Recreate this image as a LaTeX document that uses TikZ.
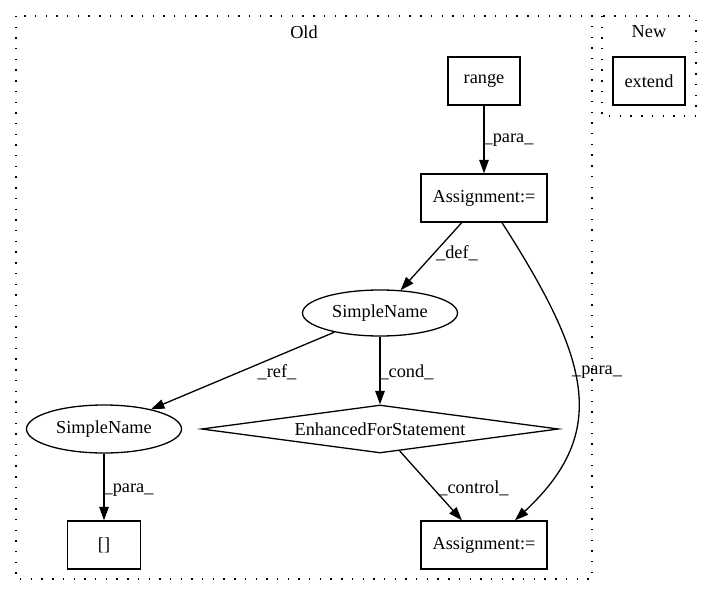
\documentclass[tikz,border=0pt]{standalone}
\usepackage{fontspec}
\setmainfont{Liberation Serif}
\usetikzlibrary{arrows.meta,shapes.geometric}

\begin{document}
\begin{tikzpicture}[x=1pt, y=-1pt, line width=1.3pt,
    font=\fontsize{18.3}{22}\selectfont,
    box/.style={draw, rectangle, minimum width=72pt, minimum height=48pt, inner sep=0pt},
    oval/.style={draw, ellipse, minimum width=155pt, minimum height=46pt, inner sep=0pt},
    choice/.style={draw, diamond, aspect=7.4, minimum width=357pt, minimum height=48pt, inner sep=0pt},
    cluster/.style={draw, line width=1.6pt, dash pattern={on 1.4pt off 9.3pt}},
    edge/.style={-{Triangle[length=13.5pt, width=9.5pt]}},
    lbl/.style={inner sep=0pt}]
  \useasboundingbox (0,0) rectangle (712,596);
  % clusters
  \draw [cluster] (16,16) rectangle (592,579);
  \draw [cluster] (602,16) rectangle (696,116);
  \node (old) at (304,32) {Old};
  \node (new) at (649,32) {New};
  % nodes
  \node [box] (extend) at (649,81) {extend};
  \node [box] (range) at (484,81) {range};
  \node [box, minimum width=126pt] (asgtop) at (484,198) {Assignment:=};
  \node [oval] (sntop) at (380,313) {SimpleName};
  \node [oval, minimum height=48pt] (snlow) at (104,429) {SimpleName};
  \node [choice] (efs) at (380,429) {EnhancedForStatement};
  \node [box, minimum width=73pt] (idx) at (104,545) {[]};
  \node [box, minimum width=126pt] (asglow) at (484,545) {Assignment:=};
  % edges
  \draw [edge] (range) -- (asgtop);
  \draw [edge] (asgtop) -- (sntop);
  \draw [edge] ([xshift=18pt]asgtop.south) .. controls (590,360) and (610,432) .. ([xshift=31pt]asglow.north);
  \draw [edge] (sntop) -- (snlow);
  \draw [edge] (sntop) -- (efs);
  \draw [edge] (snlow) -- (idx);
  \draw [edge] (efs) -- (asglow);
  % edge labels
  \node [lbl] (lrange) at (508.5,140) {\_para\_};
  \node [lbl] (ldef) at (457,253) {\_def\_};
  \node [lbl] (lpara) at (597,372) {\_para\_};
  \node [lbl] (lref) at (277,372) {\_ref\_};
  \node [lbl] (lcond) at (406.5,372) {\_cond\_};
  \node [lbl] (lidx) at (128.5,490) {\_para\_};
  \node [lbl] (lctrl) at (473.5,488) {\_control\_};
\end{tikzpicture}
\end{document}
